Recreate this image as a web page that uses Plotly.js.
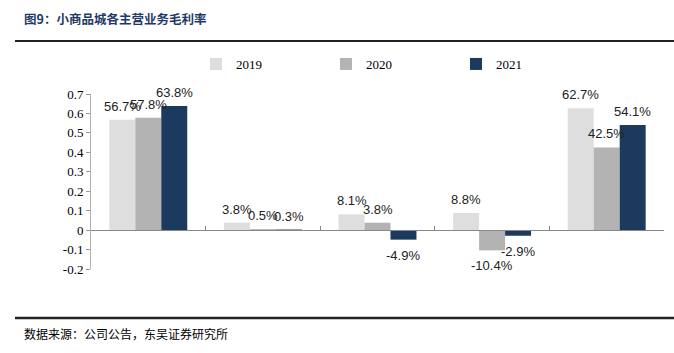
<!DOCTYPE html>
<html>
<head>
<meta charset="utf-8">
<script src="https://cdn.plot.ly/plotly-3.0.1.min.js"></script>
<style>html,body{margin:0;padding:0;background:#fff;}#chart{width:674px;height:353px;}</style>
</head>
<body>
<div id="chart"></div>
<script>
const categories = ['市场经营', '商品销售', '酒店服务', '展览广告', '其他'];
const seriesNames = ['2019', '2020', '2021'];
const values2019 = [0.567, 0.038, 0.081, 0.088, 0.627];
const values2020 = [0.578, 0.005, 0.038, -0.104, 0.425];
const values2021 = [0.638, 0.003, -0.049, -0.029, 0.541];
const yTickVals = [-0.2, -0.1, 0, 0.1, 0.2, 0.3, 0.4, 0.5, 0.6, 0.7];
const yTickText = ['-0.2', '-0.1', '0', '0.1', '0.2', '0.3', '0.4', '0.5', '0.6', '0.7'];
const titleText = '图9：小商品城各主营业务毛利率';
const sourceText = '数据来源：公司公告，东吴证券研究所';

const colors = ['#DEDEDE', '#B3B3B3', '#1B3A5E'];
const allValues = [values2019, values2020, values2021];

const W = 674, H = 353;
const mL = 91, mR = 10, mT = 94, mB = 84;
const pw = W - mL - mR, ph = H - mT - mB;
const px = x => (x - mL) / pw;
const py = y => (H - mB - y) / ph;
const bargap = 0.32;
const barPx = pw / categories.length * (1 - bargap) / allValues.length;
const legendNames = ['legend', 'legend2', 'legend3'];
const legendTextX = [236, 366, 496];

const traces = allValues.map((vals, i) => ({
  type: 'bar',
  name: seriesNames[i],
  legend: legendNames[i],
  x: categories,
  y: vals,
  marker: {color: colors[i]},
  hoverinfo: 'none'
}));

const labelAnnotations = [];
allValues.forEach((vals, i) => {
  vals.forEach((v, j) => {
    labelAnnotations.push({
      text: (v * 100).toFixed(1) + '%',
      x: categories[j], y: v, xref: 'x', yref: 'y',
      xshift: (i - (allValues.length - 1) / 2) * barPx,
      yshift: v >= 0 ? 4 : -6,
      xanchor: 'center', yanchor: v >= 0 ? 'bottom' : 'top',
      showarrow: false,
      font: {family: 'Liberation Sans, Arial, sans-serif', size: 13, color: '#222'}
    });
  });
});

const yMin = -0.2, yMax = 0.7;
const layout = {
  width: W, height: H,
  margin: {l: mL, r: mR, t: mT, b: mB},
  paper_bgcolor: '#fff', plot_bgcolor: '#fff',
  barmode: 'group', bargap: bargap, bargroupgap: 0,
  showlegend: true,
  title: {
    text: '<b>' + titleText + '</b>',
    xref: 'container', yref: 'container', x: 24 / W, xanchor: 'left', y: 1 - 20 / H, yanchor: 'middle',
    font: {family: 'Noto Sans CJK SC, sans-serif', size: 12.5, color: '#1F3B66'}
  },
  xaxis: {
    type: 'category', range: [-0.5, categories.length - 0.5],
    anchor: 'free', position: (0 - yMin) / (yMax - yMin),
    showticklabels: false, ticks: 'inside', ticklen: 4, tickcolor: '#888', tickson: 'boundaries',
    showline: true, linecolor: '#888', linewidth: 1, showgrid: false, zeroline: false, fixedrange: true
  },
  xaxis2: {
    overlaying: 'x', anchor: 'y', side: 'bottom',
    range: [-0.5, categories.length - 0.5],
    tickmode: 'array', tickvals: categories.map((c, i) => i), ticktext: categories,
    ticks: '', showline: false, showgrid: false, zeroline: false,
    ticklabelstandoff: 21,
    tickfont: {family: 'Noto Sans CJK SC, sans-serif', size: 12, color: '#000'}
  },
  yaxis: {
    range: [yMin, yMax], tickmode: 'array', tickvals: yTickVals, ticktext: yTickText,
    ticks: 'outside', ticklen: 4, tickcolor: '#999', showline: true, linecolor: '#b0b0b0', linewidth: 1,
    showgrid: false, zeroline: false,
    tickfont: {family: 'Liberation Serif, Times New Roman, serif', size: 13, color: '#000'}
  },
  shapes: [
    {type: 'line', xref: 'paper', yref: 'paper', x0: px(15), x1: px(674), y0: py(41), y1: py(41), line: {color: '#222', width: 2}},
    {type: 'line', xref: 'paper', yref: 'paper', x0: px(15), x1: px(674), y0: py(318), y1: py(318), line: {color: '#222', width: 2.5}}
  ],
  annotations: labelAnnotations.concat([
    {text: sourceText, xref: 'paper', yref: 'paper', x: px(22), y: py(333), xanchor: 'left', yanchor: 'middle', showarrow: false,
     font: {family: 'Noto Sans CJK SC, sans-serif', size: 12, color: '#000'}}
  ])
};

legendNames.forEach((ln, i) => {
  layout[ln] = {
    orientation: 'h', x: px(legendTextX[i] - 40), xanchor: 'left', y: py(64), yanchor: 'middle',
    itemwidth: 30, borderwidth: 0, bgcolor: 'rgba(0,0,0,0)',
    font: {family: 'Liberation Serif, Times New Roman, serif', size: 13, color: '#000'}
  };
});

Plotly.newPlot('chart', traces, layout, {displayModeBar: false, staticPlot: true});
</script>
</body>
</html>
